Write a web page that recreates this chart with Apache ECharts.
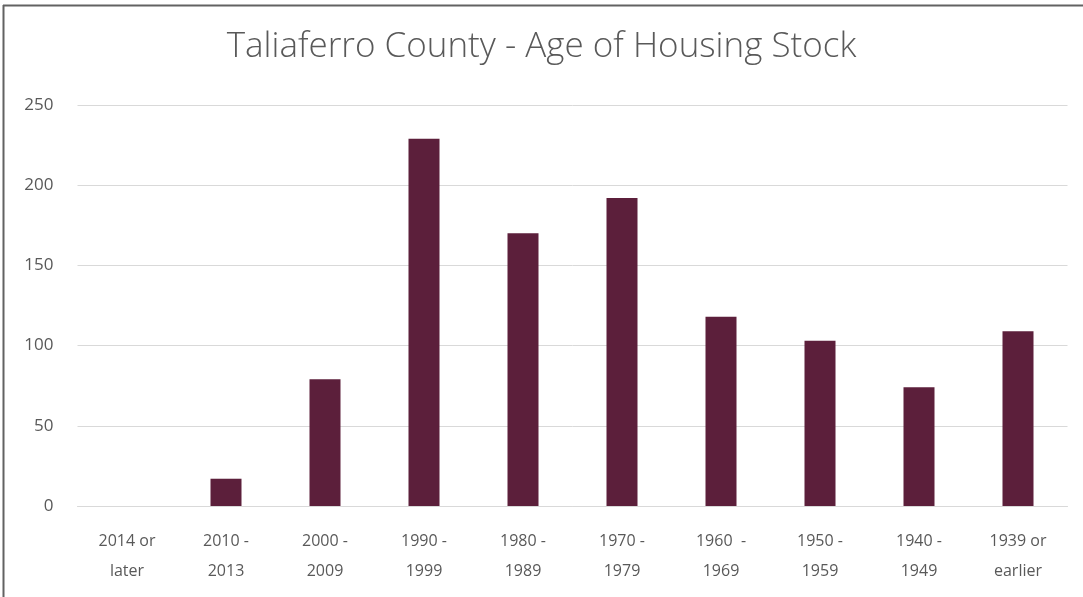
<!DOCTYPE html>
<html>
<head>
<meta charset="utf-8">
<script src="https://cdn.jsdelivr.net/npm/echarts@6/dist/echarts.min.js"></script>
<style>
  html, body { margin: 0; padding: 0; background: #fff; }
  #chart { position: absolute; left: 0; top: 0; width: 1083px; height: 597px; }
</style>
</head>
<body>
<div id="chart"></div>
<script>
// Housing units by year built
const titleText = 'Taliaferro County - Age of Housing Stock';
const categories = ['2014 or\nlater', '2010 -\n2013', '2000 -\n2009', '1990 -\n1999', '1980 -\n1989',
                    '1970 -\n1979', '1960  -\n1969', '1950 -\n1959', '1940 -\n1949', '1939 or\nearlier'];
const housingUnits = [0, 17, 79, 229, 170, 192, 118, 103, 74, 109];
const yTicks = [0, 50, 100, 150, 200, 250];

const labelFont = '"Open Sans", "Liberation Sans", sans-serif';
const chart = echarts.init(document.getElementById('chart'), null, { renderer: 'canvas' });

chart.setOption({
  backgroundColor: '#ffffff',
  animation: false,
  graphic: [
    // frame lines along the top and left edge
    { type: 'line', shape: { x1: 3, y1: 5.5, x2: 1083, y2: 5.5 }, style: { stroke: '#626262', lineWidth: 2 } },
    { type: 'line', shape: { x1: 3.5, y1: 5, x2: 3.5, y2: 597 }, style: { stroke: '#626262', lineWidth: 2 } }
  ],
  title: {
    text: titleText,
    left: 'center',
    top: 25,
    textStyle: { fontFamily: labelFont, fontWeight: 300, fontSize: 35, color: '#595959' }
  },
  grid: { left: 77.5, right: 15.5, top: 105, bottom: 91, containLabel: false },
  xAxis: {
    type: 'category',
    data: categories,
    axisLine: { show: true, lineStyle: { color: '#d9d9d9', width: 1 } },
    axisTick: { show: false },
    axisLabel: {
      interval: 0,
      margin: 20,
      color: '#595959',
      fontFamily: labelFont,
      fontSize: 16,
      lineHeight: 30
    }
  },
  yAxis: {
    type: 'value',
    min: yTicks[0],
    max: yTicks[yTicks.length - 1],
    interval: yTicks[1] - yTicks[0],
    axisLine: { show: false },
    axisTick: { show: false },
    splitLine: { lineStyle: { color: '#d9d9d9', width: 1 } },
    axisLabel: { margin: 24, color: '#595959', fontFamily: labelFont, fontSize: 17 }
  },
  series: [{
    type: 'bar',
    data: housingUnits,
    barWidth: 31,
    itemStyle: { color: '#5c1f3b' }
  }]
});
</script>
</body>
</html>
